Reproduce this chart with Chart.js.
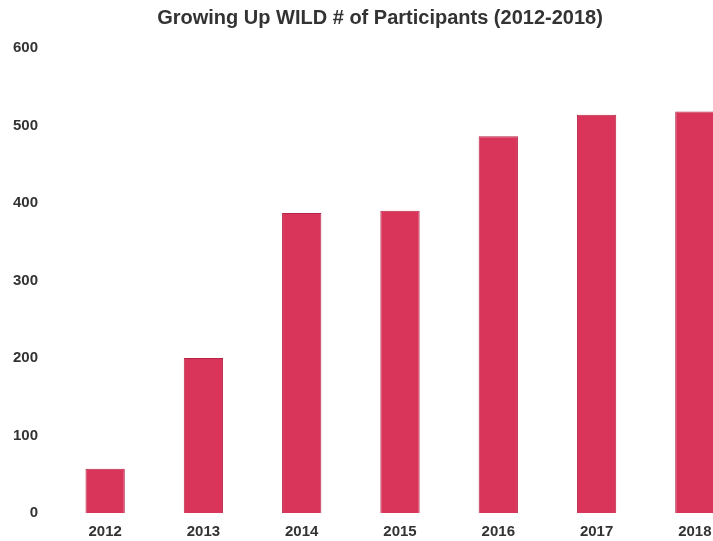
<!DOCTYPE html>
<html>
<head>
<meta charset="utf-8">
<script src="https://cdn.jsdelivr.net/npm/chart.js@4"></script>
<style>
    html, body { margin: 0; padding: 0; background: #fff; overflow: hidden; }
    #wrap { width: 760px; height: 541px; position: relative; }
</style>
</head>
<body>
<div id="wrap"><canvas id="participantsChart"></canvas></div>
<script>
// Data
const years = ['2012', '2013', '2014', '2015', '2016', '2017', '2018'];
const participants = [57, 200, 387, 390, 486, 514, 518];
const yTicks = [0, 100, 200, 300, 400, 500, 600];

const tickFont = { family: 'Liberation Sans, Arial, sans-serif', size: 15, weight: 'bold' };

// nudge the title box so it is centred like in the original picture
const titleShift = {
    id: 'titleShift',
    afterLayout: function(chart) {
        if (chart.titleBlock) chart.titleBlock.left += 16;
    }
};

const ctx = document.getElementById('participantsChart').getContext('2d');
new Chart(ctx, {
    type: 'bar',
    data: {
        labels: years,
        datasets: [{
            label: '# of Participants',
            data: participants,
            backgroundColor: '#d9355a',
            borderColor: '#b52646',
            borderWidth: 1,
            barPercentage: 0.8,
            categoryPercentage: 0.5
        }]
    },
    options: {
        responsive: true,
        maintainAspectRatio: false,
        animation: false,
        layout: {
            padding: { left: 0, right: 16, top: 0, bottom: 0 }
        },
        plugins: {
            legend: { display: false },
            tooltip: { enabled: false },
            title: {
                display: true,
                text: 'Growing Up WILD # of Participants (2012-2018)',
                color: '#333',
                font: { family: 'Liberation Sans, Arial, sans-serif', size: 20, weight: 'bold' },
                padding: { top: 6, bottom: 18 }
            }
        },
        scales: {
            y: {
                min: 0,
                max: 600,
                afterBuildTicks: function(axis) {
                    axis.ticks = yTicks.map(v => ({ value: v }));
                },
                afterFit: function(axis) { axis.width = 56; },
                grid: { display: false, drawTicks: false },
                border: { display: false },
                ticks: {
                    padding: 18,
                    color: '#333',
                    font: tickFont
                }
            },
            x: {
                afterFit: function(axis) { axis.height = 28; },
                grid: { display: false, drawTicks: false },
                border: { display: false },
                ticks: {
                    padding: 10,
                    color: '#333',
                    maxRotation: 0,
                    font: tickFont
                }
            }
        }
    },
    plugins: [titleShift]
});
</script>
</body>
</html>
